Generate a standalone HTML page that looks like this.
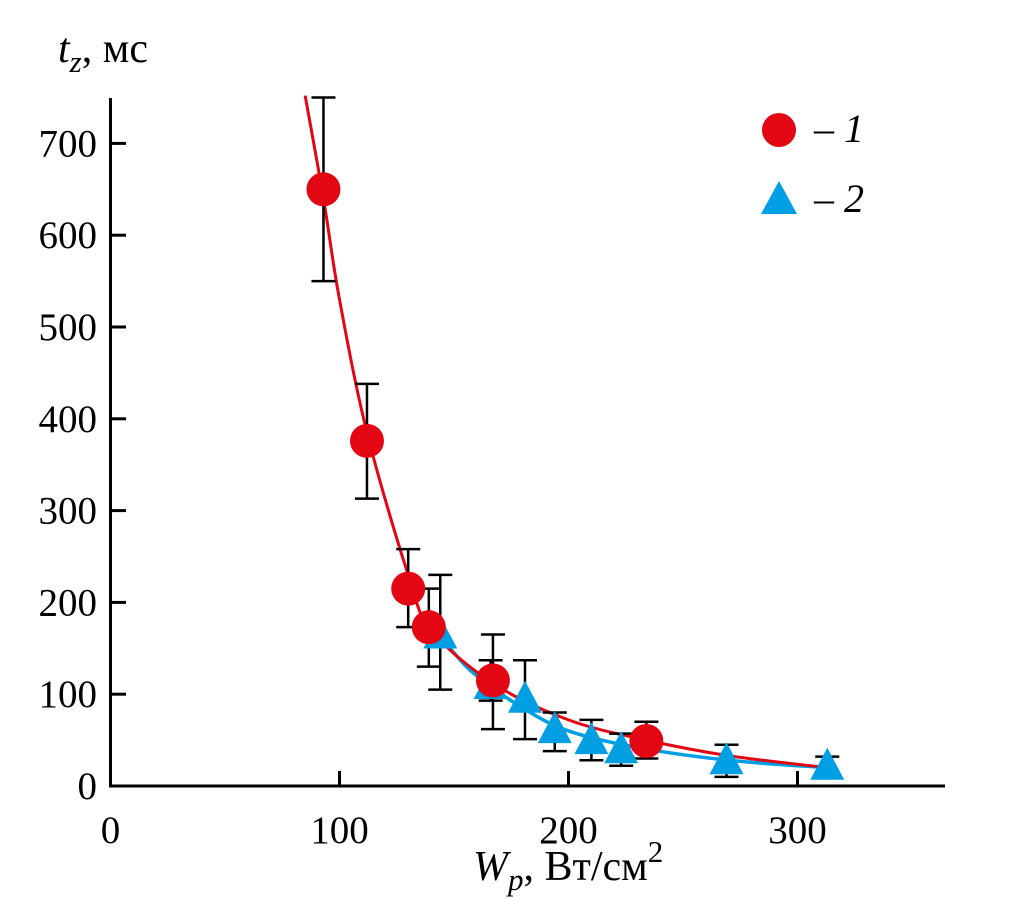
<!DOCTYPE html>
<html><head><meta charset="utf-8"><style>
html,body{margin:0;padding:0;background:#fff;}
svg{display:block;font-family:"Liberation Serif","DejaVu Serif",serif;}
</style></head><body>
<svg id="chart" width="1014" height="902" viewBox="0 0 1014 902">
<g id="axes"></g>
<g id="curves"></g>
<g id="marks"></g>
<text x="58" y="62" font-size="42"><tspan font-style="italic">t</tspan><tspan font-style="italic" font-size="31" dy="10">z</tspan><tspan dy="-10">, мс</tspan></text>
<text x="473" y="880" font-size="42"><tspan font-style="italic">W</tspan><tspan font-style="italic" font-size="31" dy="10">p</tspan><tspan dy="-10">, Вт/см</tspan><tspan font-size="31" dy="-18">2</tspan></text>
<g>
<circle cx="779" cy="130" r="17" fill="#e30613"/>
<text x="814" y="142" font-size="40" font-style="italic">– 1</text>
<polygon points="779,181 797,214 761,214" fill="#009fe3"/>
<text x="814" y="212" font-size="40" font-style="italic">– 2</text>
</g>
</svg>
<script>
const xTicks=[0,100,200,300];
const yTicks=[0,100,200,300,400,500,600,700];
const s1W=[93,112,130,139,167,234];
const s1T=[650,376,215,173,115,49];
const s1Lo=[550,313,173,130,62,30];
const s1Hi=[750,438,258,215,165,70];
const s2W=[144,166,181,194,210,223,269,313];
const s2T=[165,110,95,62,50,40,28,22];
const s2Lo=[105,93,51,38,28,22,10,10];
const s2Hi=[230,137,137,80,72,57,45,32];
const fit1W=[85,93,100,112,130,140,167,200,234,270,313];
const fit1T=[752,640,530,385,230,170,112,72,50,33,20];
const fit2W=[140,150,160,180,200,230,270,313];
const fit2T=[178,145,120,85,60,42,28,20];
const NS='http://www.w3.org/2000/svg';
const X=v=>110.5+v*2.29, Y=v=>786-v*0.918;
function mk(tag,attrs,parent){const e=document.createElementNS(NS,tag);for(const k in attrs)e.setAttribute(k,attrs[k]);parent.appendChild(e);return e;}
const ax=document.getElementById('axes');
let e=mk('path',{d:`M110.5 98V786H945`,fill:'none',stroke:'#000','stroke-width':3},ax);


xTicks.forEach(v=>{
 if(v>0){const t=mk('line',{x1:X(v),x2:X(v),y1:786,y2:771,stroke:'#000','stroke-width':3},ax);
 
 }
 const l=mk('text',{x:X(v),y:843,'font-size':39,'text-anchor':'middle'},ax);l.textContent=v;
 
 
});
yTicks.forEach(v=>{
 if(v>0){const t=mk('line',{x1:110.5,x2:126,y1:Y(v),y2:Y(v),stroke:'#000','stroke-width':3},ax);
 
 }
 const l=mk('text',{x:97,y:Y(v)+13,'font-size':39,'text-anchor':'end'},ax);l.textContent=v;
 
 
});
function smooth(ws,ts){const p=ws.map((w,i)=>[X(w),Y(ts[i])]);let d=`M${p[0][0]} ${p[0][1]}`;
 for(let i=0;i<p.length-1;i++){const p0=p[i-1]||p[i],p1=p[i],p2=p[i+1],p3=p[i+2]||p2;
 d+=` C${p1[0]+(p2[0]-p0[0])/6} ${p1[1]+(p2[1]-p0[1])/6} ${p2[0]-(p3[0]-p1[0])/6} ${p2[1]-(p3[1]-p1[1])/6} ${p2[0]} ${p2[1]}`;}return d;}
const cv=document.getElementById('curves');
const mg=document.getElementById('marks');
function errs(ws,lo,hi){ws.forEach((w,i)=>{const x=X(w);
 const g=mk('path',{d:`M${x} ${Y(lo[i])}V${Y(hi[i])}M${x-12} ${Y(lo[i])}H${x+12}M${x-12} ${Y(hi[i])}H${x+12}`,stroke:'#000','stroke-width':2.5,fill:'none'},mg);
 
 });}
errs(s1W,s1Lo,s1Hi);errs(s2W,s2Lo,s2Hi);
let c2=mk('path',{d:smooth(fit2W,fit2T),fill:'none',stroke:'#009fe3','stroke-width':3.5},cv);


let c1=mk('path',{d:smooth(fit1W,fit1T),fill:'none',stroke:'#e30613','stroke-width':3},cv);


document.getElementById('chart').appendChild(mg);
s2W.forEach((w,i)=>{const x=X(w),y=Y(s2T[i]);
 const t=mk('polygon',{points:`${x},${y-18} ${x+17},${y+14} ${x-17},${y+14}`,fill:'#009fe3'},mg);
 
 });
s1W.forEach((w,i)=>{const c=mk('circle',{cx:X(w),cy:Y(s1T[i]),r:17,fill:'#e30613'},mg);
 
 });
</script>
</body></html>
